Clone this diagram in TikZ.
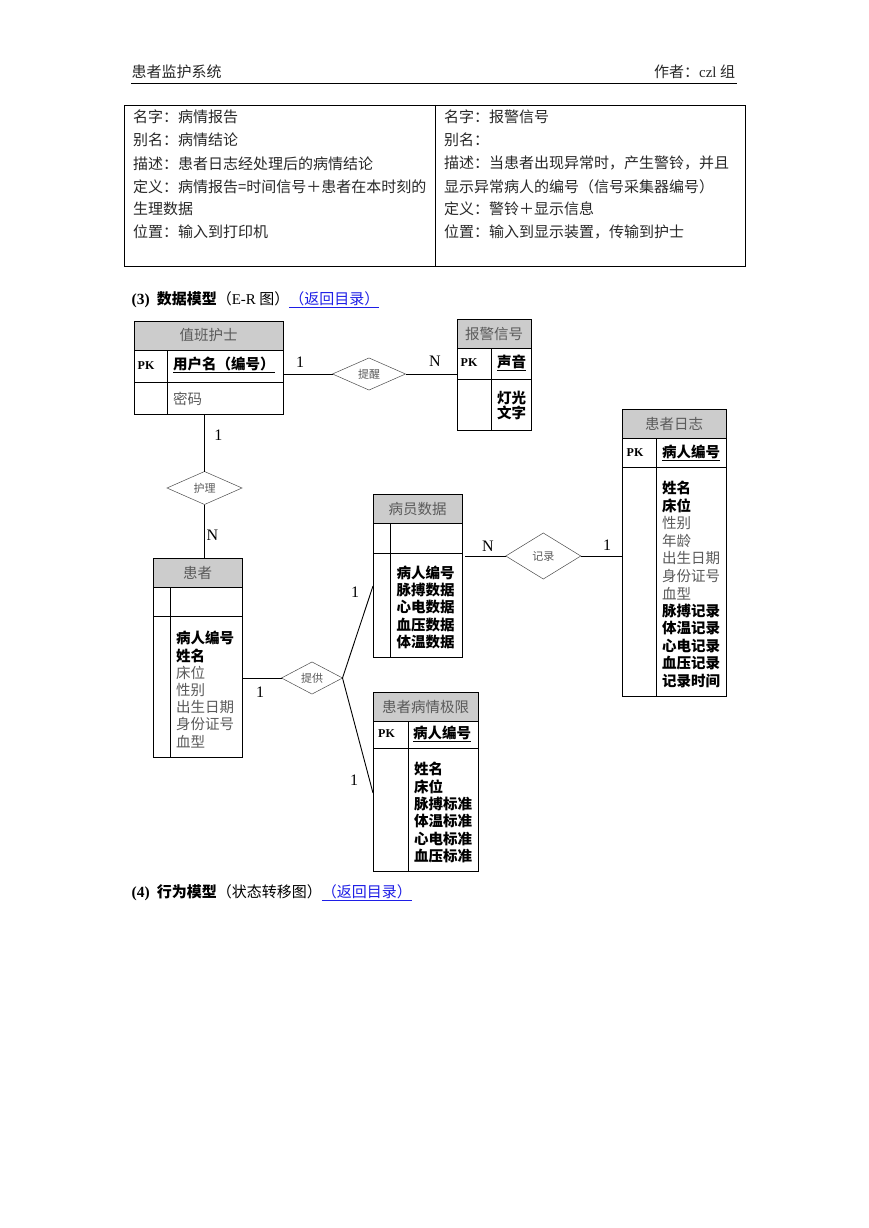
\documentclass[tikz,border=0pt]{standalone}
\usepackage{fontspec}
\setmainfont{Noto Sans CJK SC}
\newfontfamily\lat{Liberation Serif}
\usetikzlibrary{shapes.geometric}
\definecolor{hdr}{RGB}{204,204,204}
\definecolor{lnk}{RGB}{30,30,230}
\definecolor{txtg}{RGB}{90,90,90}
\definecolor{txtd}{RGB}{40,40,40}
\newcommand\ERent[9]{%
  \fill[hdr] (#2,#3) rectangle (#4,#6);
  \node[entbox, minimum width={(#4-#2)*1pt}, minimum height={(#5-#3)*1pt}, anchor=north west] (#1) at (#2,#3) {};
  \draw[entline] (#2,#6) -- (#4,#6) (#2,#7) -- (#4,#7) (#8,#6) -- (#8,#5);
  \node[enttitle] (#1-title) at ({(#2+#4)/2},{(#3+#6)/2}) {#9};
}
\newcommand\ERattrs[5]{%
  \foreach \t [count=\i from 0] in {#5} {
    \node[attr] (#1-\i) at (#2,{#3+\i*#4}) {\t};
  }
}
\begin{document}
\begin{tikzpicture}[x=1pt,y=-1pt,
  every node/.style={inner sep=0pt, outer sep=0pt},
  entbox/.style={draw=black, line width=0.9pt},
  entline/.style={draw=black, line width=0.9pt},
  enttitle/.style={font=\fontsize{14.5}{16}\selectfont, text=txtg},
  attr/.style={anchor=west, font=\fontsize{14.5}{16}\selectfont},
  pk/.style={font=\lat\bfseries\fontsize{12}{14}\selectfont},
  keyattr/.style={anchor=west, font=\bfseries\fontsize{14.5}{16}\selectfont},
  rel/.style={diamond, draw=black!70, line width=0.5pt, font=\fontsize{11}{12}\selectfont, text=txtg},
  conn/.style={draw=black, line width=0.9pt},
  card/.style={font=\lat\fontsize{16}{16}\selectfont},
  tabtxt/.style={anchor=west, font=\fontsize{15}{17}\selectfont, text=txtd},
  bodytxt/.style={anchor=west, font=\fontsize{15}{17}\selectfont, text=black}
]
\useasboundingbox (0,0) rectangle (869,1228);
\fill[white] (0,0) rectangle (869,1228);

% page header
\node[bodytxt, text=txtd] (htitle) at (131.7,71.7) {患者监护系统};
\node[bodytxt, anchor=east, text=txtd] (hauthor) at (735,71.7) {作者：{\lat czl} 组};
\coordinate (hl) at (131,83.3);
\coordinate (hr) at (737,83.3);
\draw[line width=0.9pt] (hl) -- (hr);

% data dictionary table
\node[draw=black, line width=0.9pt, minimum width=621pt, minimum height=161pt, anchor=north west] (tbl) at (124,105) {};
\coordinate (tdt) at (435,105);
\coordinate (tdb) at (435,266);
\draw[line width=0.9pt] (tdt) -- (tdb);
\node[tabtxt] (l1) at (133,116.7) {名字：病情报告};
\node[tabtxt] (l2) at (133,140) {别名：病情结论};
\node[tabtxt] (l3) at (133,163.3) {描述：患者日志经处理后的病情结论};
\node[tabtxt] (l4) at (133,186.7) {定义：病情报告=时间信号＋患者在本时刻的};
\node[tabtxt] (l5) at (133,209) {生理数据};
\node[tabtxt] (l6) at (133,231.7) {位置：输入到打印机};
\node[tabtxt] (r1) at (444,116.7) {名字：报警信号};
\node[tabtxt] (r2) at (444,140) {别名：};
\node[tabtxt] (r3) at (444,163.3) {描述：当患者出现异常时，产生警铃，并且};
\node[tabtxt] (r4) at (444,186.7) {显示异常病人的编号（信号采集器编号）};
\node[tabtxt] (r5) at (444,209) {定义：警铃＋显示信息};
\node[tabtxt] (r6) at (444,231.7) {位置：输入到显示装置，传输到护士};

% heading (3)
\node[bodytxt] (h3) at (131.7,300) {{\lat\bfseries\fontsize{15.5}{17}\selectfont (3)}\hspace{7pt}{\bfseries 数据模型}（{\lat E-R} 图）\textcolor{lnk}{\underline{（返回目录）}}};

% entities
\ERent{nurse}{134}{321}{283}{414}{350}{382}{167}{值班护士}
\ERent{alarm}{457}{319}{531}{430}{348}{379}{491}{报警信号}
\ERent{plog}{622}{409}{726}{696}{438}{467}{656}{患者日志}
\ERent{pdata}{373}{494}{462}{657}{523}{553}{390}{病员数据}
\ERent{patient}{153}{558}{242}{757}{587}{616}{170}{患者}
\ERent{limit}{373}{692}{478}{871}{721}{748}{408}{患者病情极限}

% keys
\node[pk] (nurse-pk) at (146,366) {PK};
\node[keyattr] (nurse-key) at (173,365) {\underline{用户名（编号）}};
\node[attr, text=txtg] (nurse-a) at (173,399) {密码};
\node[pk] (alarm-pk) at (469,363) {PK};
\node[keyattr] (alarm-key) at (497,363) {\underline{声音}};
\node[pk] (plog-pk) at (635,452.5) {PK};
\node[keyattr] (plog-key) at (662,452.5) {\underline{病人编号}};
\node[pk] (limit-pk) at (386.5,734) {PK};
\node[keyattr] (limit-key) at (413,734) {\underline{病人编号}};

% attributes
\ERattrs{alarm-a}{497}{398.5}{14.8}{{\bfseries 灯光},{\bfseries 文字}}
\ERattrs{plog-a}{662}{488.3}{17.5}{{\bfseries 姓名},{\bfseries 床位},{\color{txtg}性别},{\color{txtg}年龄},{\color{txtg}出生日期},{\color{txtg}身份证号},{\color{txtg}血型},{\bfseries 脉搏记录},{\bfseries 体温记录},{\bfseries 心电记录},{\bfseries 血压记录},{\bfseries 记录时间}}
\ERattrs{pdata-a}{396.5}{573.3}{17.1}{{\bfseries 病人编号},{\bfseries 脉搏数据},{\bfseries 心电数据},{\bfseries 血压数据},{\bfseries 体温数据}}
\ERattrs{patient-a}{176}{638.3}{17.2}{{\bfseries 病人编号},{\bfseries 姓名},{\color{txtg}床位},{\color{txtg}性别},{\color{txtg}出生日期},{\color{txtg}身份证号},{\color{txtg}血型}}
\ERattrs{limit-a}{414}{769.3}{17.3}{{\bfseries 姓名},{\bfseries 床位},{\bfseries 脉搏标准},{\bfseries 体温标准},{\bfseries 心电标准},{\bfseries 血压标准}}

% relationships
\node[rel, minimum width=73pt, minimum height=28pt] (remind) at (369,374) {提醒};
\node[rel, minimum width=75pt, minimum height=33pt] (care) at (204.5,488) {护理};
\node[rel, minimum width=61pt, minimum height=32pt] (provide) at (312,678) {提供};
\node[rel, minimum width=75pt, minimum height=46pt] (record) at (543.3,556) {记录};

% connection points
\coordinate (nurseR) at (283,374);
\coordinate (alarmL) at (457,374);
\coordinate (nurseB) at (204.5,414);
\coordinate (patientT) at (204.5,558);
\coordinate (patientR) at (242,678);
\coordinate (pdataL) at (373,586);
\coordinate (limitL) at (373,793);
\coordinate (pdataR) at (465,556);
\coordinate (plogL) at (622,556);

\draw[conn] (nurseR) -- (remind.west);
\draw[conn] (remind.east) -- (alarmL);
\draw[conn] (nurseB) -- (care.north);
\draw[conn] (care.south) -- (patientT);
\draw[conn] (patientR) -- (provide.west);
\draw[conn] (provide.east) -- (pdataL);
\draw[conn] (provide.east) -- (limitL);
\draw[conn] (pdataR) -- (record.west);
\draw[conn] (record.east) -- (plogL);

% cardinalities
\node[card] (c1) at (300,362) {1};
\node[card] (c2) at (435,361) {N};
\node[card] (c3) at (218.3,435) {1};
\node[card] (c4) at (212.3,535) {N};
\node[card] (c5) at (260,692) {1};
\node[card] (c6) at (355,592) {1};
\node[card] (c7) at (354,780) {1};
\node[card] (c8) at (488,546) {N};
\node[card] (c9) at (607,545) {1};

% heading (4)
\node[bodytxt] (h4) at (131.7,892.7) {{\lat\bfseries\fontsize{15.5}{17}\selectfont (4)}\hspace{7pt}{\bfseries 行为模型}（状态转移图）\textcolor{lnk}{\underline{（返回目录）}}};
\end{tikzpicture}
\end{document}
